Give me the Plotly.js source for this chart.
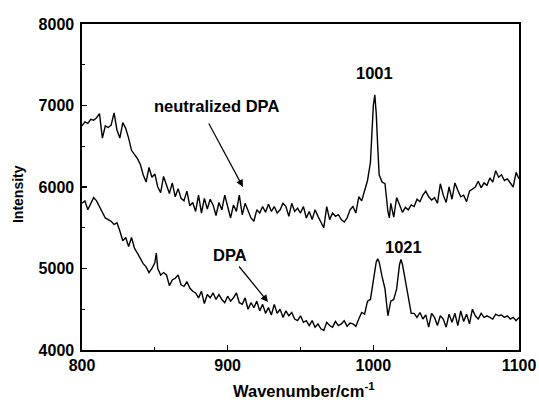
<!DOCTYPE html>
<html>
<head>
<meta charset="utf-8">
<script src="https://cdn.plot.ly/plotly-3.0.1.min.js"></script>
<style>html,body{margin:0;padding:0;background:#fff;}#chart{width:539px;height:400px;}</style>
</head>
<body>
<div id="chart"></div>
<script>
// Neutralized DPA spectrum
const neutX = [800,802,804,806,808,810,812,814,816,818,820,822,824,826,828,830,832,834,836,838,840,842,844,846,848,850,852,854,856,858,860,862,864,866,868,870,872,874,876,878,880,882,884,886,888,890,892,894,896,898,900,902,904,906,908,910,912,914,916,918,920,922,924,926,928,930,932,934,936,938,940,942,944,946,948,950,952,954,956,958,960,962,964,966,968,970,972,974,976,978,980,982,984,986,988,990,992,994,996,998,999,1000,1001,1002,1003,1004,1006,1008,1010,1011,1012,1014,1016,1018,1020,1022,1024,1026,1028,1030,1032,1034,1036,1038,1040,1042,1044,1046,1048,1050,1052,1054,1056,1058,1060,1062,1064,1066,1068,1070,1072,1074,1076,1078,1080,1082,1084,1086,1088,1090,1092,1094,1096,1098,1100];
const neutY = [6750,6800,6780,6830,6820,6850,6900,6600,6750,6730,6760,6910,6700,6600,6790,6720,6600,6450,6400,6350,6280,6150,6060,6240,6120,6160,6000,5930,6130,6020,5920,6050,5880,5980,5860,5830,5950,5770,5810,5700,5900,5680,5860,5730,5850,5780,5650,5810,5720,5900,5750,5620,5780,5700,5900,5660,5800,5720,5620,5580,5720,5680,5760,5690,5790,5700,5760,5680,5720,5800,5760,5640,5800,5700,5740,5680,5760,5620,5700,5600,5720,5640,5560,5500,5760,5600,5680,5640,5660,5600,5570,5620,5720,5760,5680,5880,5830,5960,6080,6300,6700,7000,7130,6900,6500,6150,6060,6040,5700,5620,5800,5630,5870,5780,5690,5750,5720,5780,5760,5850,5820,5900,5950,5880,5840,5870,5800,6040,5900,5810,6000,5850,6050,5960,5880,5900,5820,5950,5980,6000,6070,5990,6050,6020,6110,6060,6200,6120,6150,6080,6100,6050,6000,6180,6100];

// DPA spectrum
const dpaX = [800,802,804,806,808,810,812,814,816,818,820,822,824,826,828,830,832,834,836,838,840,842,844,846,848,850,851,852,854,856,858,860,862,864,866,868,870,872,874,876,878,880,882,884,886,888,890,892,894,896,898,900,902,904,906,908,910,912,914,916,918,920,922,924,926,928,930,932,934,936,938,940,942,944,946,948,950,952,954,956,958,960,962,964,966,968,970,972,974,976,978,980,982,984,986,988,990,992,994,996,998,1000,1002,1003,1004,1006,1008,1010,1012,1014,1016,1018,1019,1020,1022,1024,1026,1028,1030,1032,1034,1036,1038,1040,1042,1044,1046,1048,1050,1052,1054,1056,1058,1060,1062,1064,1066,1068,1070,1072,1074,1076,1078,1080,1082,1084,1086,1088,1090,1092,1094,1096,1098,1100];
const dpaY = [5800,5830,5720,5800,5870,5830,5760,5680,5620,5600,5580,5540,5560,5460,5340,5380,5270,5380,5250,5190,5130,5060,5020,4950,5000,5070,5190,5000,4920,4950,4920,4790,4860,4880,4920,4800,4780,4840,4760,4720,4700,4640,4720,4570,4680,4640,4700,4620,4680,4620,4580,4660,4600,4640,4700,4580,4560,4640,4500,4580,4520,4600,4480,4560,4450,4520,4430,4560,4450,4500,4400,4480,4420,4460,4380,4360,4420,4340,4360,4300,4360,4280,4320,4260,4240,4340,4300,4280,4350,4300,4320,4360,4290,4330,4320,4290,4380,4460,4440,4600,4620,4850,5080,5120,5080,4900,4750,4420,4600,4620,4750,5050,5110,5050,4850,4600,4450,4450,4400,4460,4380,4430,4280,4450,4400,4300,4420,4380,4280,4440,4340,4450,4300,4480,4350,4440,4320,4500,4420,4380,4450,4400,4420,4400,4380,4440,4420,4430,4400,4420,4380,4400,4360,4400];

const xTicks = [800,900,1000,1100];
const yTicks = [4000,5000,6000,7000,8000];

const labels = [
  {text: 'neutralized DPA', x: 892.5, y: 6994},
  {text: 'DPA', x: 901.6, y: 5166},
  {text: '1001', x: 1000.8, y: 7399},
  {text: '1021', x: 1020.7, y: 5264}
];
const arrows = [
  {x: 910.5, y: 6000, ax: 886.5, ay: 6797},
  {x: 927.7, y: 4589, ax: 907, ay: 5043}
];
const xTitle = 'Wavenumber/cm<sup>-1</sup>';
const yTitle = 'Intensity';

const fontFam = 'Arial, "Liberation Sans", sans-serif';
const line = {color: '#000', width: 1.4};

const traces = [
  {x: neutX, y: neutY, mode: 'lines', line: line, name: 'neutralized DPA', hoverinfo: 'skip'},
  {x: dpaX, y: dpaY, mode: 'lines', line: line, name: 'DPA', hoverinfo: 'skip'}
];

const annotations = labels.map(l => ({
  x: l.x, y: l.y, xref: 'x', yref: 'y', text: l.text, showarrow: false,
  font: {family: fontFam, size: 16.5, color: '#000', weight: 'bold'}
})).concat(arrows.map(a => ({
  x: a.x, y: a.y, ax: a.ax, ay: a.ay, xref: 'x', yref: 'y', axref: 'x', ayref: 'y',
  text: '', showarrow: true, arrowhead: 2, arrowsize: 1.2, arrowwidth: 1.2, arrowcolor: '#000'
}))).concat([
  {xref: 'paper', yref: 'paper', x: 0.508, y: -0.122, xanchor: 'center', yanchor: 'middle',
   text: xTitle, showarrow: false, font: {family: fontFam, size: 16.5, color: '#000', weight: 'bold'}},
  {xref: 'paper', yref: 'paper', x: -0.146, y: 0.479, xanchor: 'center', yanchor: 'middle', textangle: -90,
   text: yTitle, showarrow: false, font: {family: fontFam, size: 14, color: '#000', weight: 'bold'}}
]);

const axisCommon = {
  showline: true, linecolor: '#000', linewidth: 1.6, mirror: true,
  showgrid: false, zeroline: false, ticks: 'inside', ticklen: 5, tickwidth: 1.3, tickcolor: '#000',
  tickfont: {family: fontFam, size: 16, color: '#000', weight: 'bold'}
};

const layout = {
  width: 539, height: 400,
  margin: {l: 82, r: 20, t: 24, b: 50},
  paper_bgcolor: '#fff', plot_bgcolor: '#fff',
  showlegend: false,
  xaxis: Object.assign({}, axisCommon, {
    range: [800, 1100], tickvals: xTicks, ticktext: xTicks.map(String),
    minor: {tickvals: [850, 950, 1050], ticks: 'inside', ticklen: 3, tickwidth: 1.2, tickcolor: '#000'}
  }),
  yaxis: Object.assign({}, axisCommon, {
    range: [4000, 8000], tickvals: yTicks, ticktext: yTicks.map(String), ticklabelstandoff: 3,
    minor: {tickvals: [4500, 5500, 6500, 7500], ticks: 'inside', ticklen: 3, tickwidth: 1.2, tickcolor: '#000'}
  }),
  annotations: annotations
};

Plotly.newPlot('chart', traces, layout, {staticPlot: true, displayModeBar: false});
</script>
</body>
</html>
